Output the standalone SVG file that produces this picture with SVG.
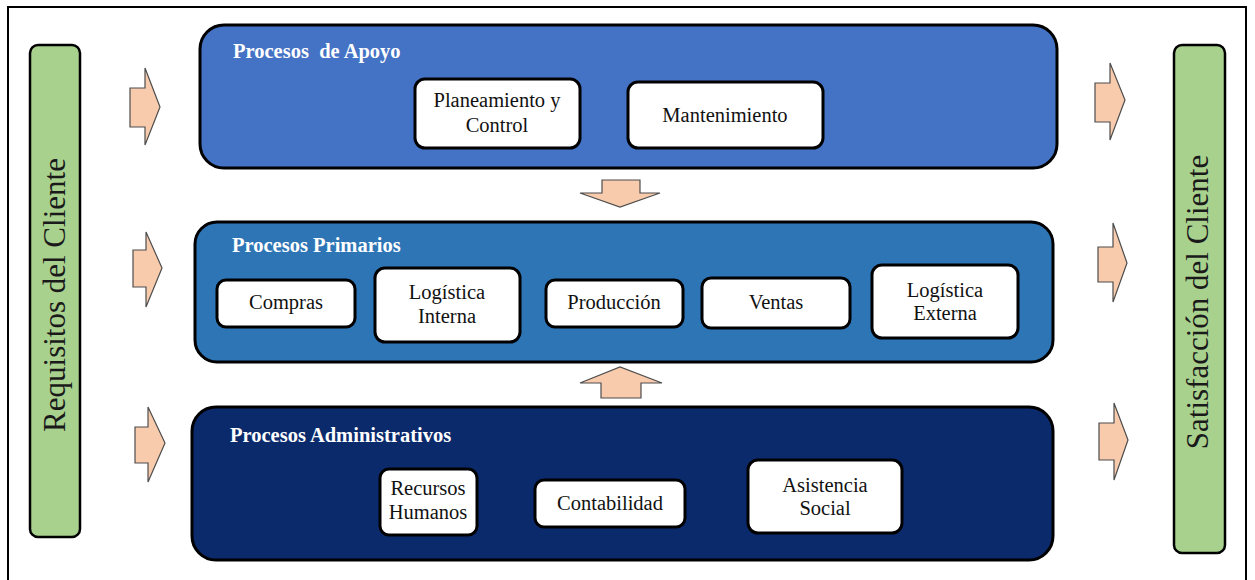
<svg xmlns="http://www.w3.org/2000/svg" width="1255" height="580" viewBox="0 0 1255 580">
  <style>
    .frame { fill: #ffffff; stroke: #000000; stroke-width: 2; }
    .bar { fill: #a9d18e; stroke: #000000; stroke-width: 2.5; }
    .serif { font-family: "Liberation Serif", "DejaVu Serif", "Times New Roman", serif; }
    .bar-text { font-size: 31px; fill: #1a1a1a; text-anchor: middle; }
    .group-box { stroke: #000000; stroke-width: 3; }
    .apoyo { fill: #4472c4; }
    .primarios { fill: #2e75b6; }
    .admin { fill: #0b2a6b; }
    .title { font-size: 20.5px; font-weight: bold; fill: #ffffff; }
    .item { fill: #ffffff; stroke: #000000; stroke-width: 3; }
    .item-text { font-size: 20.5px; font-weight: normal; fill: #111111; text-anchor: middle; }
    .arrow { fill: #f8cbad; stroke: #4d4d4d; stroke-width: 1.2; stroke-linejoin: miter; }
  </style>

  <!-- page frame -->
  <rect class="frame" x="8" y="7" width="1238" height="580"/>

  <!-- side bars -->
  <g id="requisitos">
    <rect class="bar" x="30" y="45" width="50" height="492" rx="8"/>
    <text class="serif bar-text" transform="translate(65,295) rotate(-90)">Requisitos del Cliente</text>
  </g>
  <g id="satisfaccion">
    <rect class="bar" x="1174" y="45" width="51" height="508" rx="8"/>
    <text class="serif bar-text" transform="translate(1208,302) rotate(-90)">Satisfacción del Cliente</text>
  </g>

  <!-- support processes -->
  <g id="apoyo">
    <rect class="group-box apoyo" x="200" y="25" width="857" height="143" rx="24"/>
    <text class="serif title" x="233" y="58" xml:space="preserve">Procesos  de Apoyo</text>
  </g>
  <g id="planeamiento">
    <rect class="item" x="415" y="79" width="165" height="69" rx="10"/>
    <text class="serif item-text" x="497" y="107">Planeamiento y</text>
    <text class="serif item-text" x="497" y="132">Control</text>
  </g>
  <g id="mantenimiento">
    <rect class="item" x="628" y="82" width="195" height="66" rx="10"/>
    <text class="serif item-text" x="725" y="122">Mantenimiento</text>
  </g>

  <!-- primary processes -->
  <g id="primarios">
    <rect class="group-box primarios" x="195" y="222" width="858" height="140" rx="22"/>
    <text class="serif title" x="232" y="252">Procesos Primarios</text>
  </g>
  <g id="compras">
    <rect class="item" x="217" y="280" width="138" height="47" rx="9"/>
    <text class="serif item-text" x="286" y="309">Compras</text>
  </g>
  <g id="logistica-interna">
    <rect class="item" x="375" y="268" width="145" height="74" rx="10"/>
    <text class="serif item-text" x="447" y="299">Logística</text>
    <text class="serif item-text" x="447" y="323">Interna</text>
  </g>
  <g id="produccion">
    <rect class="item" x="546" y="280" width="137" height="47" rx="9"/>
    <text class="serif item-text" x="614" y="309">Producción</text>
  </g>
  <g id="ventas">
    <rect class="item" x="702" y="278" width="148" height="50" rx="9"/>
    <text class="serif item-text" x="776" y="309">Ventas</text>
  </g>
  <g id="logistica-externa">
    <rect class="item" x="872" y="265" width="146" height="73" rx="10"/>
    <text class="serif item-text" x="945" y="297">Logística</text>
    <text class="serif item-text" x="945" y="320">Externa</text>
  </g>

  <!-- administrative processes -->
  <g id="administrativos">
    <rect class="group-box admin" x="192" y="407" width="861" height="153" rx="24"/>
    <text class="serif title" x="230" y="442">Procesos Administrativos</text>
  </g>
  <g id="recursos-humanos">
    <rect class="item" x="380" y="469" width="97" height="66" rx="9"/>
    <text class="serif item-text" x="428" y="495">Recursos</text>
    <text class="serif item-text" x="428" y="519">Humanos</text>
  </g>
  <g id="contabilidad">
    <rect class="item" x="535" y="480" width="150" height="47" rx="9"/>
    <text class="serif item-text" x="610" y="510">Contabilidad</text>
  </g>
  <g id="asistencia-social">
    <rect class="item" x="748" y="460" width="154" height="73" rx="10"/>
    <text class="serif item-text" x="825" y="492">Asistencia</text>
    <text class="serif item-text" x="825" y="515">Social</text>
  </g>

  <!-- block arrows -->
  <g id="connectors">
    <polygon class="arrow" points="130,88 145,88 145,68 160,107 145,145 145,127 130,127"/>
    <polygon class="arrow" points="133,250 146,250 146,232 162,268 146,307 146,287 133,287"/>
    <polygon class="arrow" points="135,427 148,427 148,407 165,443 148,482 148,463 135,463"/>
    <polygon class="arrow" points="1095,83 1110,83 1110,63 1125,100 1110,140 1110,122 1095,122"/>
    <polygon class="arrow" points="1098,247 1113,247 1113,223 1127,263 1113,302 1113,282 1098,282"/>
    <polygon class="arrow" points="1099,423 1114,423 1114,403 1128,440 1114,480 1114,460 1099,460"/>
    <polygon class="arrow" points="602,180 640,180 640,193 660,193 620,207 580,193 602,193"/>
    <polygon class="arrow" points="601,398 641,398 641,383 662,383 620,367 580,383 601,383"/>
  </g>
</svg>
